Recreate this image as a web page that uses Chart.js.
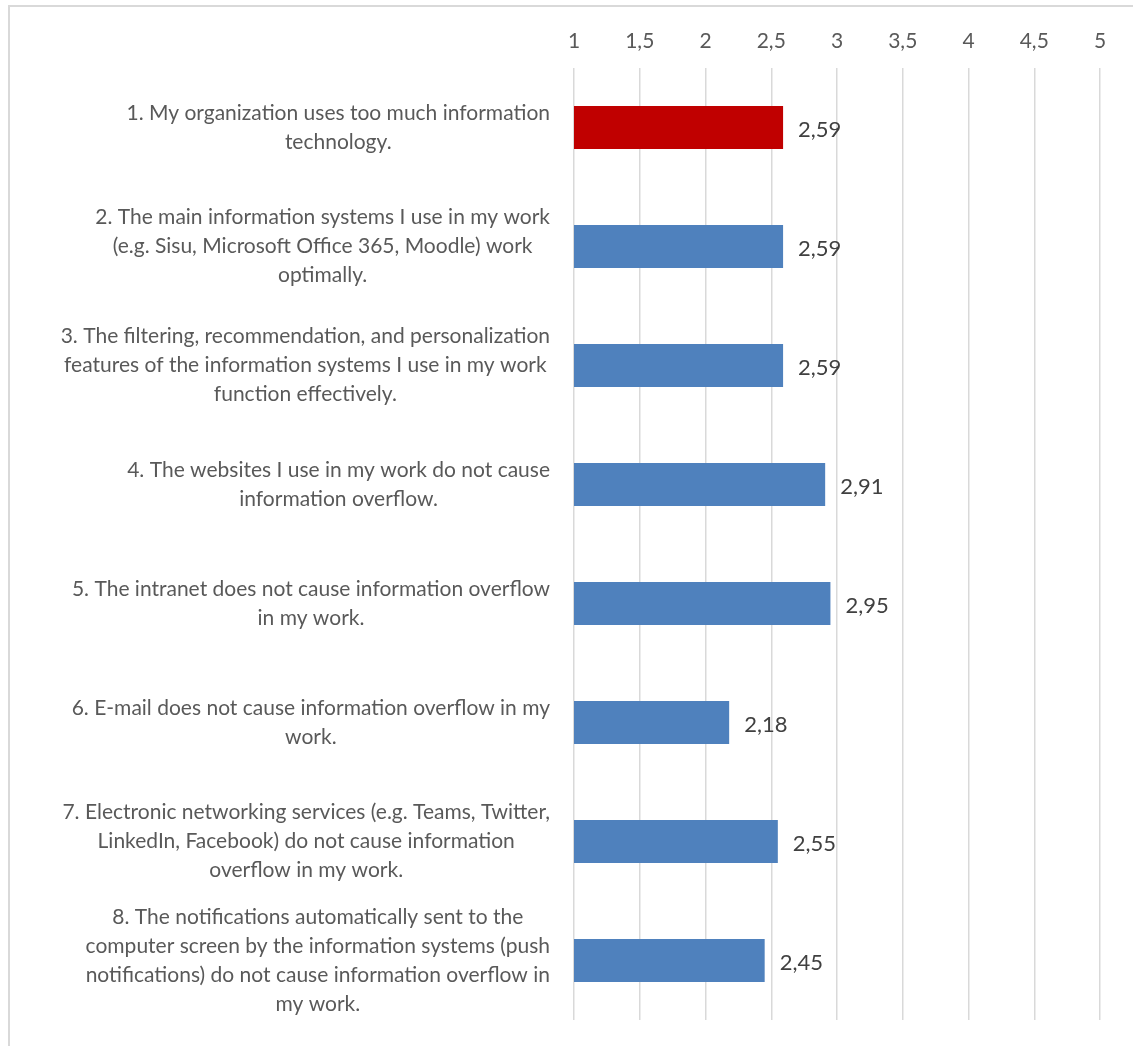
<!DOCTYPE html>
<html>
<head>
<meta charset="utf-8">
<script src="https://cdn.jsdelivr.net/npm/chart.js@4.4.0/dist/chart.umd.min.js"></script>
<style>
  html, body { margin: 0; padding: 0; background: #fff; }
  #wrap { position: relative; width: 1133px; height: 1046px; }
  #frame { position: absolute; left: 8px; top: 5px; width: 1140px; height: 1060px;
           border-top: 2px solid #d9d9d9; border-left: 2px solid #d9d9d9; box-sizing: border-box; }
  canvas { position: absolute; left: 0; top: 0; }
</style>
</head>
<body>
<div id="wrap">
  <div id="frame"></div>
  <canvas id="chart" width="1133" height="1046"></canvas>
</div>
<script>
// statements (each entry = wrapped lines as in the original)
var statements = [
  ["1. My organization uses too much information", "technology."],
  ["2. The main information systems I use in my work", "(e.g. Sisu, Microsoft Office 365, Moodle) work", "optimally."],
  ["3. The filtering, recommendation, and personalization", "features of the information systems I use in my work", "function effectively."],
  ["4. The websites I use in my work do not cause", "information overflow."],
  ["5. The intranet does not cause information overflow", "in my work."],
  ["6. E-mail does not cause information overflow in my", "work."],
  ["7. Electronic networking services (e.g. Teams, Twitter,", "LinkedIn, Facebook) do not cause information", "overflow in my work."],
  ["8. The notifications automatically sent to the", "computer screen by the information systems (push", "notifications) do not cause information overflow in", "my work."]
];
var means = [2.59, 2.59, 2.59, 2.91, 2.95, 2.18, 2.55, 2.45];
var barColors = ["#C00000", "#4F81BD", "#4F81BD", "#4F81BD", "#4F81BD", "#4F81BD", "#4F81BD", "#4F81BD"];
var xMin = 1, xMax = 5, xStep = 0.5;

var FONT = "Lato, 'Open Sans', sans-serif";

function fmt(v) { return String(v).replace('.', ','); }

// draws the wrapped statement labels (lines centred, block right-aligned) and value labels
var labelPlugin = {
  id: 'labels',
  afterDraw: function(chart) {
    var ctx = chart.ctx;
    var yScale = chart.scales.y;
    ctx.save();
    ctx.font = '21px ' + FONT;
    ctx.fillStyle = '#595959';
    ctx.textAlign = 'center';
    ctx.textBaseline = 'middle';
    var lineH = 29;
    var rightEdge = chart.chartArea.left - 24;
    statements.forEach(function(lines, i) {
      var cy = yScale.getPixelForValue(i);
      var w = 0;
      lines.forEach(function(l) { w = Math.max(w, ctx.measureText(l).width); });
      var cx = rightEdge - w / 2;
      var top = cy - (lines.length - 1) * lineH / 2;
      lines.forEach(function(l, k) { ctx.fillText(l, cx, top + k * lineH); });
    });
    ctx.font = '22px ' + FONT;
    ctx.fillStyle = '#404040';
    ctx.textAlign = 'left';
    var meta = chart.getDatasetMeta(0);
    meta.data.forEach(function(bar, i) {
      ctx.fillText(fmt(means[i]), bar.x + 15, bar.y + 2);
    });
    ctx.restore();
  }
};

new Chart(document.getElementById('chart'), {
  type: 'bar',
  data: {
    labels: statements.map(function(s) { return s.join(' '); }),
    datasets: [{
      data: means,
      backgroundColor: barColors,
      borderWidth: 0,
      barPercentage: 0.36,
      categoryPercentage: 1.0
    }]
  },
  options: {
    indexAxis: 'y',
    responsive: false,
    animation: false,
    layout: { padding: { left: 0, right: 33, top: 0, bottom: 26 } },
    plugins: { legend: { display: false }, tooltip: { enabled: false } },
    scales: {
      x: {
        position: 'top',
        min: xMin, max: xMax,
        afterFit: function(s) { s.height = 68; },
        ticks: {
          stepSize: xStep,
          color: '#595959',
          font: { family: FONT, size: 21 },
          padding: 14,
          callback: function(v) { return fmt(v); }
        },
        grid: { color: '#d9d9d9', lineWidth: 1.5, drawTicks: false },
        border: { display: false }
      },
      y: {
        afterFit: function(s) { s.width = 574; },
        ticks: { display: false },
        grid: { display: false },
        border: { display: false }
      }
    }
  },
  plugins: [labelPlugin]
});
</script>
</body>
</html>
